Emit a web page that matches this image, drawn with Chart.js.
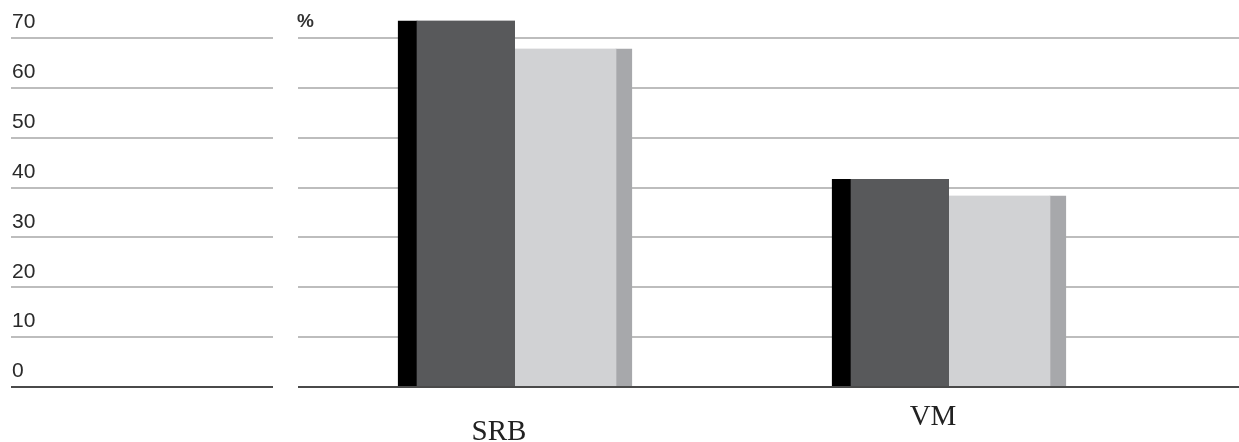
<!DOCTYPE html>
<html>
<head>
<meta charset="utf-8">
<script src="https://cdn.jsdelivr.net/npm/chart.js@4/dist/chart.umd.min.js"></script>
<style>
  html, body { margin: 0; padding: 0; background: #fff; }
  #wrap { width: 1239px; height: 442px; position: relative; }
</style>
</head>
<body>
<div id="wrap"><canvas id="chart"></canvas></div>
<script>
// values
const categories = ['SRB', 'VM'];
const darkValues = [73.5, 41.7];
const lightValues = [67.9, 38.4];
const yTicks = [0, 10, 20, 30, 40, 50, 60, 70];
const unitLabel = '%';

// breaks the grid between the label panel and the bar panel, and writes the extra texts
const panelPlugin = {
    id: 'panels',
    beforeDatasetsDraw(chart) {
        const { ctx, chartArea } = chart;
        ctx.save();
        ctx.fillStyle = '#fff';
        ctx.fillRect(273, chartArea.top - 4, 25, chartArea.bottom - chartArea.top + 8);
        ctx.restore();
    },
    afterDraw(chart) {
        const { ctx, chartArea } = chart;
        const x = chart.scales.x;
        const drop = [45, 30]; // the two category names do not sit on one line
        ctx.save();
        ctx.fillStyle = '#222';
        ctx.font = '29px "Liberation Serif", "Times New Roman", serif';
        ctx.textAlign = 'center';
        ctx.textBaseline = 'middle';
        categories.forEach((c, i) => {
            ctx.fillText(c, x.getPixelForValue(i) - 16, chartArea.bottom + drop[i]);
        });
        ctx.fillStyle = '#333';
        ctx.font = 'bold 19px "Liberation Sans", Arial, sans-serif';
        ctx.textAlign = 'left';
        ctx.fillText(unitLabel, 297, 22);
        ctx.restore();
    }
};

new Chart(document.getElementById('chart'), {
    type: 'bar',
    data: {
        datasets: [
            {
                data: categories.map((c, i) => ({ x: i, y: darkValues[i] })),
                backgroundColor: '#58595b',
                borderColor: '#000000',
                borderWidth: { left: 19, top: 0, right: 0, bottom: 0 },
                clip: false
            },
            {
                data: categories.map((c, i) => ({ x: i, y: lightValues[i] })),
                backgroundColor: '#d1d2d4',
                borderColor: '#a7a8ab',
                borderWidth: { left: 0, top: 0, right: 16, bottom: 0 },
                clip: false
            }
        ]
    },
    options: {
        responsive: true,
        maintainAspectRatio: false,
        animation: false,
        barThickness: 117,
        layout: { padding: { left: 9, right: 0, top: 38, bottom: 55 } },
        plugins: { legend: { display: false }, tooltip: { enabled: false } },
        scales: {
            x: {
                type: 'linear',
                display: false,
                offset: false,
                min: -1.1613,
                max: 1.6682
            },
            y: {
                min: 0,
                max: 70,
                afterBuildTicks: (scale) => { scale.ticks = yTicks.map(v => ({ value: v })); },
                border: { display: false },
                grid: {
                    drawTicks: false,
                    lineWidth: 2,
                    color: (c) => c.tick && c.tick.value === 0 ? '#4a4a4a' : '#bdbdbd'
                },
                ticks: {
                    mirror: true,
                    autoSkip: false,
                    padding: 1,
                    color: '#2a2a2a',
                    font: { family: '"Liberation Sans", Arial, sans-serif', size: 21, lineHeight: '31px' },
                    // second empty line lifts the number above its grid line
                    callback: (v) => [String(v), '']
                }
            }
        }
    },
    plugins: [panelPlugin]
});
</script>
</body>
</html>
